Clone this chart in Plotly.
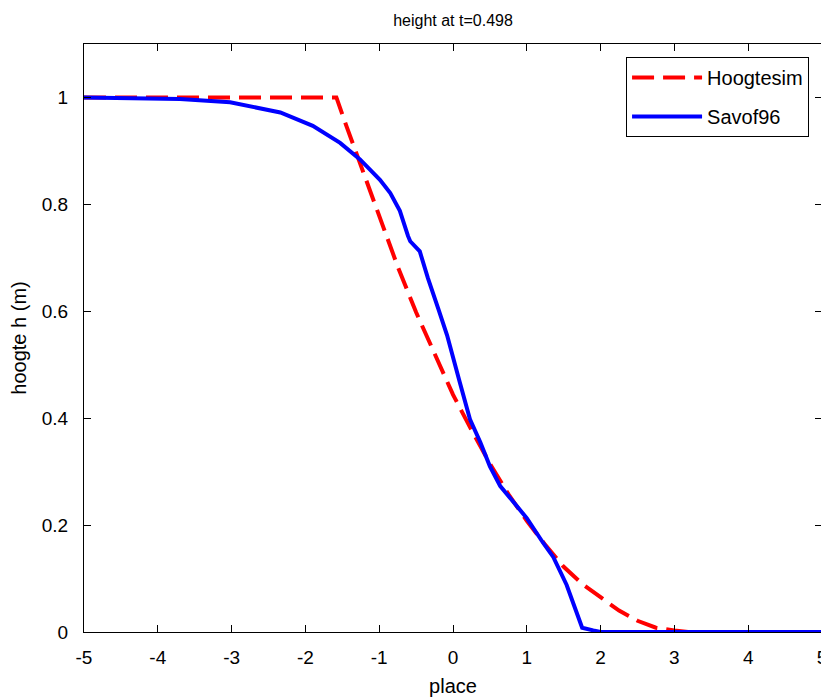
import plotly.graph_objects as go

# Hoogtesim (red dashed)
hoog_x = [-5.0, -1.58, -1.44, -1.25, -1.0, -0.75, -0.5, -0.25, 0.0, 0.25, 0.5, 0.75,
          1.0, 1.25, 1.5, 1.75, 2.0, 2.25, 2.5, 2.75, 3.0, 3.2, 5.0]
hoog_y = [1.0, 1.0, 0.945, 0.872, 0.775, 0.684, 0.598, 0.519, 0.444, 0.378, 0.315, 0.258,
          0.208, 0.163, 0.122, 0.090, 0.064, 0.040, 0.021, 0.008, 0.003, 0.0, 0.0]

# Savof96 (blue solid)
sav_x = [-5.0, -3.7, -3.02, -2.34, -1.9, -1.53, -1.26, -0.99, -0.85, -0.72, -0.61, -0.58,
         -0.45, -0.34, -0.2, -0.08, 0.09, 0.23, 0.37, 0.5, 0.64, 0.77, 1.0, 1.22, 1.36,
         1.54, 1.63, 1.75, 1.9, 2.0, 5.0]
sav_y = [1.0, 0.997, 0.991, 0.972, 0.947, 0.915, 0.884, 0.846, 0.821, 0.788, 0.741, 0.731,
         0.712, 0.662, 0.605, 0.555, 0.468, 0.398, 0.355, 0.310, 0.273, 0.252, 0.213, 0.167, 0.14,
         0.088, 0.055, 0.008, 0.003, 0.0, 0.0]

x_ticks = [-5, -4, -3, -2, -1, 0, 1, 2, 3, 4, 5]
x_tick_labels = ["-5", "-4", "-3", "-2", "-1", "0", "1", "2", "3", "4", "5"]
y_ticks = [0, 0.2, 0.4, 0.6, 0.8, 1]
y_tick_labels = ["0", "0.2", "0.4", "0.6", "0.8", "1"]

font_family = "Liberation Sans, Arial, sans-serif"

fig = go.Figure()
fig.add_trace(go.Scatter(x=hoog_x, y=hoog_y, mode="lines", name="Hoogtesim", legendgroup="a",
                         line=dict(color="#ff0000", width=4, dash="22px,9px")))
fig.add_trace(go.Scatter(x=sav_x, y=sav_y, mode="lines", name="Savof96", legendgroup="b",
                         line=dict(color="#0000ff", width=4)))

axis_common = dict(showline=True, linecolor="black", linewidth=1, mirror="ticks",
                   ticks="inside", ticklen=7, tickcolor="black", showgrid=False,
                   zeroline=False, tickfont=dict(size=19, color="black"),
                   automargin=False, ticklabeloverflow="allow")

fig.update_layout(
    width=829, height=700,
    paper_bgcolor="white", plot_bgcolor="white",
    margin=dict(l=76, r=15, t=36, b=76),
    font=dict(family=font_family, size=19, color="black"),
    title=dict(text="height at t=0.498", xref="paper", x=0.5, xanchor="center",
               yref="container", y=0.982, yanchor="middle", font=dict(size=16)),
    xaxis=dict(range=[-5, 5], tickvals=x_ticks, ticktext=x_tick_labels, ticklabelstandoff=8,
               title=dict(text="place", font=dict(size=20), standoff=12), **axis_common),
    yaxis=dict(range=[0, 1.1], tickvals=y_ticks, ticktext=y_tick_labels, ticklabelstandoff=11,
               title=dict(text="hoogte h (m)", font=dict(size=20), standoff=24), **axis_common),
    legend=dict(x=0.7345, y=0.978, xanchor="left", yanchor="top",
                bordercolor="black", borderwidth=1, bgcolor="white",
                font=dict(size=20), itemwidth=70, traceorder="grouped", tracegroupgap=10,
                entrywidth=125),
    showlegend=True,
)

fig.write_html("out.html")
